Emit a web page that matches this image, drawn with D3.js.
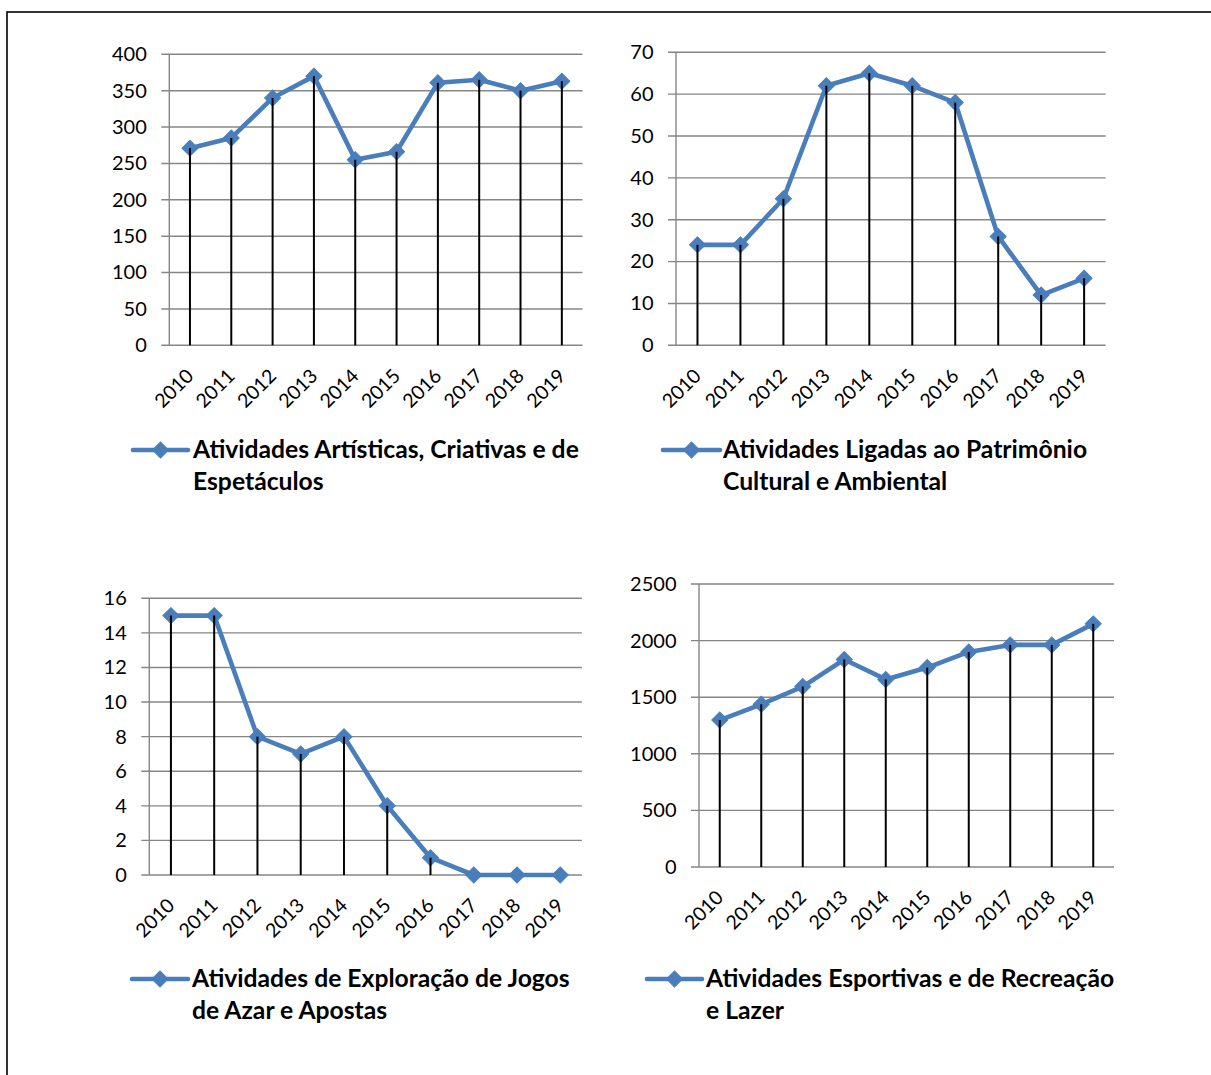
<!DOCTYPE html>
<html><head><meta charset="utf-8">
<script src="https://cdn.jsdelivr.net/npm/d3@7"></script>
<style>
html,body{margin:0;padding:0;background:#fff;}
svg{display:block;}
text{font-family:Lato,"Open Sans",sans-serif;fill:#000;}
</style></head>
<body>
<svg id="chart" width="1211" height="1075"></svg>
<script>
// ---- data ----
const years = ["2010","2011","2012","2013","2014","2015","2016","2017","2018","2019"];
const artisticas = [271, 285, 340, 370, 255, 266, 361, 365, 350, 363];
const patrimonio = [24, 24, 35, 62, 65, 62, 58, 26, 12, 16];
const jogos = [15, 15, 8, 7, 8, 4, 1, 0, 0, 0];
const esportivas = [1298, 1437, 1594, 1833, 1657, 1762, 1900, 1962, 1962, 2148];
const seriesNames = [
  ["Atividades Artísticas, Criativas e de", "Espetáculos"],
  ["Atividades Ligadas ao Patrimônio", "Cultural e Ambiental"],
  ["Atividades de Exploração de Jogos", "de Azar e Apostas"],
  ["Atividades Esportivas e de Recreação", "e Lazer"]
];
const yMax = [400, 70, 16, 2500];
const yStep = [50, 10, 2, 500];

// ---- layout ----
const panels = [
  {values: artisticas, xL:169.3, xR:582.5, yT:54.3, yB:345.3, lg:{x1:133, x2:188, y:450, tx:193}},
  {values: patrimonio, xL:676, xR:1105.6, yT:52.3, yB:345.3, lg:{x1:663, x2:720, y:450, tx:723}},
  {values: jogos, xL:149.3, xR:581.9, yT:598.3, yB:875, lg:{x1:132, x2:188, y:979, tx:192}},
  {values: esportivas, xL:699, xR:1114, yT:584, yB:867, lg:{x1:647, x2:702, y:979, tx:706}}
];

const blue = "#4A7EBB";
const grid = "#868686";
const svg = d3.select("#chart");

// outer frame (only top and left edges visible)
svg.append("rect").attr("x",7).attr("y",12).attr("width",1250).attr("height",1100)
  .attr("fill","none").attr("stroke","#000").attr("stroke-width",1.6);

const diamond = d3.symbol().type(d3.symbolSquare).size(128);

panels.forEach((p, i) => {
  const g = svg.append("g");
  const x = d3.scaleBand().domain(years).range([p.xL, p.xR]).padding(0);
  const y = d3.scaleLinear().domain([0, yMax[i]]).range([p.yB, p.yT]);
  const ticks = d3.range(0, yMax[i] + yStep[i]/2, yStep[i]);
  const cx = d => x(d) + x.bandwidth()/2;

  // gridlines
  g.append("g").selectAll("line").data(ticks).join("line")
    .attr("x1", p.xL - 8).attr("x2", p.xR)
    .attr("y1", d => y(d)).attr("y2", d => y(d))
    .attr("stroke", grid).attr("stroke-width", 1.4);
  // vertical value axis line
  g.append("line").attr("x1", p.xL).attr("x2", p.xL).attr("y1", p.yT).attr("y2", p.yB)
    .attr("stroke", grid).attr("stroke-width", 1.4);

  // y axis labels
  const ya = g.append("g").attr("transform", `translate(${p.xL},0)`)
    .call(d3.axisLeft(y).tickValues(ticks).tickSize(0).tickPadding(22.5).tickFormat(d3.format("d")));
  ya.select(".domain").remove();
  ya.selectAll("text").attr("font-size", 20).attr("font-family", "Lato").attr("fill", "#000");

  // x axis labels
  const xa = g.append("g").attr("transform", `translate(0,${p.yB})`)
    .call(d3.axisBottom(x).tickSize(0));
  xa.select(".domain").remove();
  xa.selectAll(".tick text")
    .attr("font-size", 19.5).attr("font-family", "Lato").attr("fill", "#000")
    .attr("text-anchor", "end")
    .attr("y", 0).attr("dy", "0.35em")
    .attr("transform", "translate(0,27) rotate(-45)");

  // series line
  const line = d3.line().x((d, j) => cx(years[j])).y(d => y(d));
  g.append("path").datum(p.values).attr("d", line)
    .attr("fill", "none").attr("stroke", blue).attr("stroke-width", 4.6)
    .attr("stroke-linejoin", "round");
  // markers
  g.append("g").selectAll("path").data(p.values).join("path")
    .attr("d", diamond)
    .attr("transform", (d, j) => `translate(${cx(years[j])},${y(d)}) rotate(45)`)
    .attr("fill", blue).attr("stroke", blue).attr("stroke-width", 1);
  // drop lines
  g.append("g").selectAll("line").data(p.values).join("line")
    .attr("x1", (d, j) => cx(years[j])).attr("x2", (d, j) => cx(years[j]))
    .attr("y1", d => y(d)).attr("y2", p.yB)
    .attr("stroke", "#000").attr("stroke-width", 2);

  // legend
  const lg = g.append("g");
  lg.append("line").attr("x1", p.lg.x1).attr("x2", p.lg.x2).attr("y1", p.lg.y).attr("y2", p.lg.y)
    .attr("stroke", blue).attr("stroke-width", 4.6).attr("stroke-linecap", "round");
  lg.append("path").attr("d", diamond)
    .attr("transform", `translate(${(p.lg.x1 + p.lg.x2)/2},${p.lg.y}) rotate(45)`)
    .attr("fill", blue).attr("stroke", blue);
  const t = lg.append("text").attr("x", p.lg.tx).attr("y", p.lg.y + 8)
    .attr("font-size", 24.7).attr("font-weight", "bold").attr("font-family", "Lato");
  seriesNames[i].forEach((s, k) => {
    t.append("tspan").attr("x", p.lg.tx).attr("dy", k === 0 ? 0 : 32).text(s);
  });
});
</script>
</body></html>
